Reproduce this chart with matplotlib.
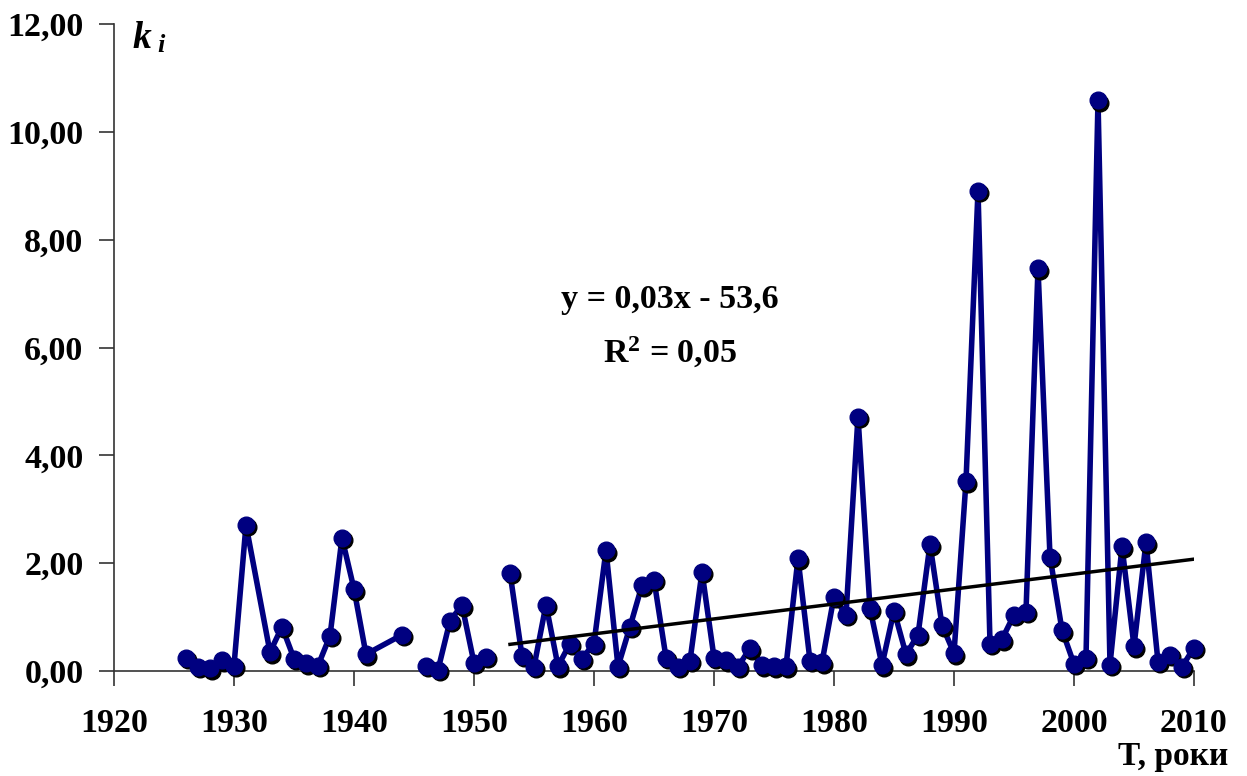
import numpy as np
import matplotlib
matplotlib.use("Agg")
import matplotlib.pyplot as plt
from matplotlib import transforms

# coefficient k_i by year; None = no observation (line breaks there)
years = [1926, 1927, 1928, 1929, 1930, 1931, 1933, 1934, 1935, 1936,
         1937, 1938, 1939, 1940, 1941, 1944, 1945, 1946, 1947, 1948,
         1949, 1950, 1951, 1952] + list(range(1953, 2011))
k_values = [0.25, 0.08, 0.05, 0.20, 0.10, 2.71, 0.35, 0.82, 0.23, 0.14,
            0.10, 0.65, 2.47, 1.52, 0.31, 0.67, None, 0.10, 0.02, 0.93,
            1.22, 0.15, 0.26, None,
            1.82, 0.28, 0.08, 1.23, 0.09, 0.51, 0.23, 0.51, 2.24, 0.08,
            0.82, 1.59, 1.69, 0.25, 0.08, 0.19, 1.84, 0.25, 0.20, 0.08,
            0.42, 0.11, 0.09, 0.09, 2.09, 0.19, 0.16, 1.38, 1.04, 4.72,
            1.16, 0.11, 1.12, 0.31, 0.67, 2.35, 0.85, 0.33, 3.52, 8.91,
            0.51, 0.59, 1.04, 1.10, 7.47, 2.12, 0.76, 0.13, 0.25, 10.59,
            0.12, 2.31, 0.46, 2.39, 0.17, 0.30, 0.08, 0.43]
trend_start = 1953
y_ticks = [0, 2, 4, 6, 8, 10, 12]

x = np.array(years, dtype=float)
y = np.array([np.nan if v is None else v for v in k_values], dtype=float)

plt.rcParams['font.family'] = ['Liberation Serif', 'DejaVu Serif']
plt.rcParams['font.weight'] = 'bold'
plt.rcParams['mathtext.fontset'] = 'custom'
plt.rcParams['mathtext.rm'] = 'Liberation Serif:bold'
plt.rcParams['mathtext.it'] = 'Liberation Serif:italic:bold'
plt.rcParams['mathtext.bf'] = 'Liberation Serif:bold'

fig = plt.figure(figsize=(12.47, 7.76), dpi=100)
ax = fig.add_axes([114/1247, 1 - 671/776, (1194 - 114)/1247, (671 - 24)/776])

navy = '#000080'
ax.plot(x, y, color=navy, lw=4, zorder=2, clip_on=False)
# marker shadows shifted down-right a few pixels
shadow = transforms.offset_copy(ax.transData, fig=fig, x=2.5, y=-2.5, units='dots')
ax.plot(x, y, ls='none', marker='o', ms=12, color='black', transform=shadow,
        zorder=3, clip_on=False)
ax.plot(x, y, ls='none', marker='o', ms=12, color=navy, zorder=4, clip_on=False)

# linear trend over the continuous part of the record
m = (x >= trend_start) & ~np.isnan(y)
slope, icpt = np.polyfit(x[m], y[m], 1)
tx = np.array([trend_start, x[m].max()])
ax.plot(tx, slope * tx + icpt, color='black', lw=2.5, zorder=5)

fig.text(670/1247, 1 - 300/776, 'y = 0,03x - 53,6', fontsize=24.5,
         fontweight='bold', ha='center', va='center')
fig.text(670/1247, 1 - 352/776, r'R$^{2}$ = 0,05', fontsize=24.5,
         fontweight='bold', ha='center', va='center')

ax.set_xlim(1920, 2010)
ax.set_ylim(0, 12)
ax.set_xticks(range(1920, 2011, 10))
ax.set_yticks(y_ticks)
ax.set_yticklabels([f'{v:.2f}'.replace('.', ',') for v in y_ticks])
for side in ('top', 'right'):
    ax.spines[side].set_visible(False)
for side in ('left', 'bottom'):
    ax.spines[side].set_color('#333333')
    ax.spines[side].set_linewidth(1.2)
    ax.spines[side].set_zorder(1)
ax.tick_params(direction='out', length=11, width=1.2, color='#333333',
               labelsize=24.5)
ax.tick_params(axis='x', pad=16)
ax.tick_params(axis='y', pad=11)
for lab in ax.get_xticklabels() + ax.get_yticklabels():
    lab.set_fontweight('bold')

fig.text(132/1247, 1 - 39/776, 'k', fontsize=27, fontstyle='italic',
         fontweight='bold', ha='left', va='center')
fig.text(157/1247, 1 - 46/776, 'i', fontsize=19, fontstyle='italic',
         fontweight='bold', ha='left', va='center')
fig.text(1228/1247, 1 - 756/776, 'T, роки', fontsize=24, fontweight='bold',
         ha='right', va='center')

fig.savefig('out.png', dpi=100)
